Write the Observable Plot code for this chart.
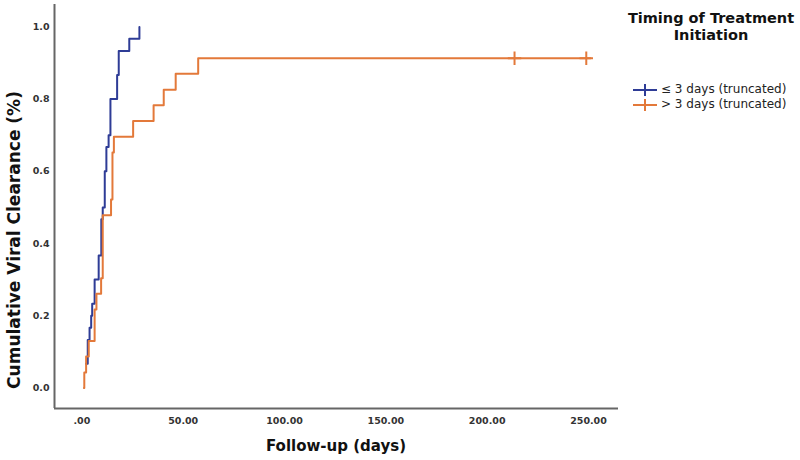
<!DOCTYPE html>
<html>
<head>
<meta charset="utf-8">
<script src="https://cdn.jsdelivr.net/npm/d3@7"></script>
<script src="https://cdn.jsdelivr.net/npm/@observablehq/plot@0.6"></script>
<style>
  html, body { margin: 0; padding: 0; background: #fff; }
  #wrap { position: relative; width: 800px; height: 460px; font-family: "DejaVu Sans", sans-serif; }
  #legend { position: absolute; left: 600px; top: 0; width: 200px; height: 130px; }
  #legend .ttl { position: absolute; left: 0; width: 222px; text-align: center; top: 10px; font-weight: 700; font-size: 14.5px; line-height: 17px; color: #111; }
  #legend .item { position: absolute; left: 33px; height: 15px; line-height: 15px; display: flex; align-items: center; font-size: 12px; color: #222; white-space: nowrap; }
  #legend .item svg { margin-right: 4px; flex: none; }
</style>
</head>
<body>
<div id="wrap"></div>
<script>
// ---- data ----
const groups = ["≤ 3 days (truncated)", ">3 days (truncated)"];
const legendLabels = ["≤ 3 days (truncated)", "> 3 days (truncated)"];
const colors = ["#2e3c96", "#e3793a"];

const earlyDays  = [2.1, 2.9, 3.8, 4.6, 5.1, 6.3, 8.3, 9.6, 10.3, 11.3, 12.1, 13.2, 14.1, 17.4, 18.2, 23.4, 28.4];
const earlyClear = [0.067, 0.133, 0.167, 0.2, 0.233, 0.3, 0.367, 0.467, 0.5, 0.6, 0.667, 0.7, 0.8, 0.867, 0.933, 0.967, 1.0];

const lateDays  = [1.0, 1.2, 2.1, 3.4, 6.3, 7.2, 9.5, 10.3, 14.4, 15.1, 15.8, 25.3, 35.4, 40.4, 46.3, 57.4, 251];
const lateClear = [0, 0.043, 0.087, 0.130, 0.217, 0.261, 0.304, 0.478, 0.522, 0.652, 0.696, 0.739, 0.783, 0.826, 0.870, 0.913, 0.913];

const lateCensorDays  = [213.5, 248.9];
const lateCensorClear = [0.913, 0.913];

const xTicks = [0, 50, 100, 150, 200, 250];
const yTicks = [0, 0.2, 0.4, 0.6, 0.8, 1.0];
const xDomain = [-13.5, 264.8];
const yDomain = [-0.057, 1.062];

const xTitle = "Follow-up (days)";
const yTitle = "Cumulative Viral Clearance (%)";
const legendTitle = ["Timing of Treatment", "Initiation"];

// ---- tables ----
const early = earlyDays.map((d, i) => ({day: d, clear: earlyClear[i], group: groups[0]}));
const late = lateDays.map((d, i) => ({day: d, clear: lateClear[i], group: groups[1]}));
const censor = lateCensorDays.map((d, i) => ({day: d, clear: lateCensorClear[i], group: groups[1]}));

const xFmt = d => d === 0 ? ".00" : d.toFixed(2);

const chart = Plot.plot({
  width: 800,
  height: 460,
  marginLeft: 54,
  marginRight: 182,
  marginTop: 4,
  marginBottom: 52,
  style: {fontFamily: "DejaVu Sans, sans-serif", fontSize: "9.5px", color: "#333", background: "white"},
  x: {domain: xDomain, ticks: xTicks, tickFormat: xFmt},
  y: {domain: yDomain, ticks: yTicks, tickFormat: d3.format(".1f")},
  marks: [
    Plot.line(early, {x: "day", y: "clear", curve: "step-after", stroke: colors[0], strokeWidth: 2}),
    Plot.line(late, {x: "day", y: "clear", curve: "step-after", stroke: colors[1], strokeWidth: 2}),
    Plot.dot(censor, {x: "day", y: "clear", symbol: "plus", r: 4.4, stroke: colors[1], strokeWidth: 2}),
    Plot.ruleX([xDomain[0]], {stroke: "#666", strokeWidth: 2}),
    Plot.ruleY([yDomain[0]], {stroke: "#666", strokeWidth: 2}),
    Plot.axisX({ticks: xTicks, tickSize: 0, tickPadding: 9, label: null, fontWeight: "bold", tickFormat: xFmt}),
    Plot.axisY({ticks: yTicks, tickSize: 0, tickPadding: 5, label: null, fontWeight: "bold", tickFormat: d3.format(".1f")})
  ]
});

const wrap = document.getElementById("wrap");
wrap.appendChild(chart);

// axis titles
const svg = d3.select(chart);
svg.append("text")
  .attr("x", 336).attr("y", 446)
  .attr("text-anchor", "middle")
  .attr("dominant-baseline", "middle")
  .attr("font-family", "DejaVu Sans, sans-serif")
  .attr("font-size", 15).attr("font-weight", "bold").attr("fill", "#111")
  .text(xTitle);
svg.append("text")
  .attr("transform", "translate(15,240) rotate(-90)")
  .attr("text-anchor", "middle")
  .attr("dominant-baseline", "middle")
  .attr("font-family", "DejaVu Sans, sans-serif")
  .attr("font-size", 17).attr("font-weight", "bold").attr("fill", "#111")
  .text(yTitle);

// ---- legend ----
const lg = document.createElement("div");
lg.id = "legend";
const ttl = document.createElement("div");
ttl.className = "ttl";
ttl.innerHTML = legendTitle.join("<br>");
lg.appendChild(ttl);
legendLabels.forEach((lab, i) => {
  const it = document.createElement("div");
  it.className = "item";
  it.style.top = (82 + i * 15) + "px";
  it.innerHTML = `<svg width="24" height="14"><line x1="0" y1="7" x2="24" y2="7" stroke="${colors[i]}" stroke-width="2"/><line x1="12" y1="1" x2="12" y2="13" stroke="${colors[i]}" stroke-width="2"/></svg><span>${lab}</span>`;
  lg.appendChild(it);
});
wrap.appendChild(lg);
</script>
</body>
</html>
